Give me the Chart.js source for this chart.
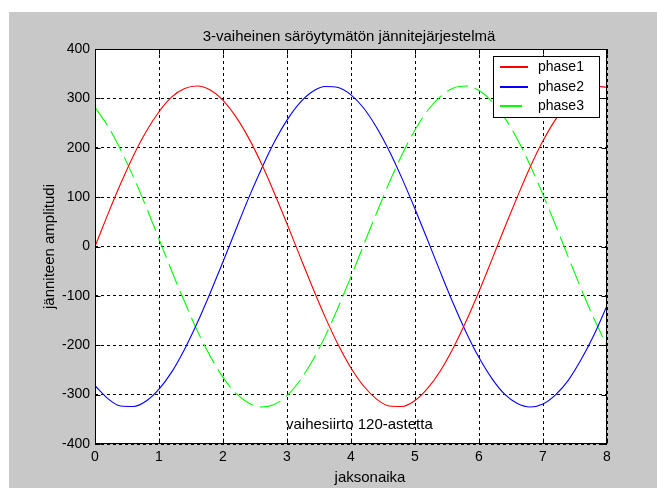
<!DOCTYPE html>
<html>
<head>
<meta charset="utf-8">
<script src="https://cdn.jsdelivr.net/npm/chart.js@4"></script>
<style>
  html, body { margin: 0; padding: 0; background: #fff; }
  canvas { display: block; }
</style>
</head>
<body>
<canvas id="myChart" width="657" height="488"></canvas>
<script>
// data
var aika = [0, 0.2, 0.4, 0.6, 0.8, 1, 1.2, 1.4, 1.6, 1.8, 2, 2.2, 2.4, 2.6, 2.8, 3, 3.2, 3.4, 3.6, 3.8,
            4, 4.2, 4.4, 4.6, 4.8, 5, 5.2, 5.4, 5.6, 5.8, 6, 6.2, 6.4, 6.6, 6.8, 7, 7.2, 7.4, 7.6, 7.8, 8];
var phase1 = [0, 65, 127, 184, 233, 273, 303, 320, 325, 317, 296, 263, 220, 168, 109, 46, -19, -83, -144, -199,
              -246, -283, -309, -323, -324, -312, -287, -251, -205, -151, -91, -27, 38, 101, 161, 214, 258, 292, 315, 325, 322];
var phase2 = [-282, -308, -323, -324, -313, -289, -254, -208, -154, -94, -31, 34, 98, 157, 211, 256, 291, 314, 324, 322,
              307, 280, 241, 193, 137, 76, 12, -53, -116, -174, -225, -267, -299, -318, -325, -319, -300, -270, -228, -178, -120];
var phase3 = [282, 244, 196, 141, 80, 15, -50, -112, -171, -222, -265, -297, -317, -325, -320, -302, -272, -231, -181, -123,
              -61, 4, 68, 130, 187, 236, 276, 304, 321, 325, 316, 294, 261, 217, 164, 105, 42, -23, -87, -147, -202];
var xTicks = [0, 1, 2, 3, 4, 5, 6, 7, 8];
var yTicks = [-400, -300, -200, -100, 0, 100, 200, 300, 400];
var otsikko = '3-vaiheinen säröytymätön jännitejärjestelmä';
var huomautus = { x: 3, y: -361, text: 'vaihesiirto 120-astetta' };

function pisteet(ys) {
  return aika.map(function(t, i) { return { x: t, y: ys[i] }; });
}

var FONT = '"Liberation Sans", Arial, sans-serif';
Chart.defaults.font.family = FONT;
Chart.defaults.font.size = 14;
Chart.defaults.color = '#000';

// MATLAB style frame, inward ticks, texts and legend
var kehys = {
  id: 'kehys',
  beforeDraw: function(chart) {
    var c = chart.ctx, a = chart.chartArea;
    c.save();
    c.fillStyle = '#fff';
    c.fillRect(0, 0, chart.width, chart.height);
    c.fillStyle = '#c8c8c8';
    c.fillRect(9, 12, chart.width - 9, chart.height - 12);
    c.fillStyle = '#fff';
    c.fillRect(a.left, a.top, a.right - a.left, a.bottom - a.top);
    c.restore();
  },
  afterDatasetsDraw: function(chart) {
    var c = chart.ctx, a = chart.chartArea;
    var xs = chart.scales.x, ys = chart.scales.y;
    var l = Math.round(a.left) + 0.5, r = Math.round(a.right) - 0.5;
    var t = Math.round(a.top) + 0.5, b = Math.round(a.bottom) - 0.5;
    c.save();
    c.strokeStyle = '#000';
    c.lineWidth = 1;
    c.setLineDash([]);
    c.strokeRect(l, t, r - l, b - t);
    c.beginPath();
    xTicks.forEach(function(v) {
      var px = Math.round(xs.getPixelForValue(v)) + 0.5;
      c.moveTo(px, b); c.lineTo(px, b - 5);
      c.moveTo(px, t); c.lineTo(px, t + 5);
    });
    yTicks.forEach(function(v) {
      var py = Math.round(ys.getPixelForValue(v)) + 0.5;
      c.moveTo(l, py); c.lineTo(l + 5, py);
      c.moveTo(r, py); c.lineTo(r - 5, py);
    });
    c.stroke();

    c.fillStyle = '#000';
    c.font = '15px ' + FONT;
    c.textAlign = 'left';
    c.textBaseline = 'middle';
    c.fillText(huomautus.text, xs.getPixelForValue(huomautus.x) - 1, ys.getPixelForValue(huomautus.y));

    c.textAlign = 'center';
    c.fillText('jaksonaika', 370, 478);
    c.fillText(otsikko, 349, 37);
    c.restore();
  },
  afterDraw: function(chart) {
    var c = chart.ctx;
    c.save();
    c.fillStyle = '#000';
    c.fillRect(493, 56, 107, 62);
    c.fillStyle = '#fff';
    c.fillRect(494, 57, 105, 60);
    c.font = '14px ' + FONT;
    c.textAlign = 'left';
    c.textBaseline = 'middle';
    chart.data.datasets.forEach(function(ds, i) {
      var y = Math.round(67 + i * 19.5);
      var dash = ds.borderDash || [28, 0];
      c.fillStyle = ds.borderColor;
      // legend sample, drawn as 2px rectangles following the dash pattern
      for (var x = 0, k = 0; x < 28; k++) {
        var len = dash[k % dash.length];
        if (k % 2 === 0) c.fillRect(500 + x, y - 1, Math.min(len, 28 - x), 2);
        x += len || 28;
      }
      c.fillStyle = '#000';
      c.fillText(ds.label, 538, y);
    });
    c.restore();
  }
};

var ctx = document.getElementById('myChart').getContext('2d');
var chart = new Chart(ctx, {
  type: 'line',
  data: {
    datasets: [{
      label: 'phase1',
      data: pisteet(phase1),
      borderColor: '#ff0000'
    }, {
      label: 'phase2',
      data: pisteet(phase2),
      borderColor: '#0000ff'
    }, {
      label: 'phase3',
      data: pisteet(phase3),
      borderColor: '#00ff00',
      borderDash: [22, 7]
    }]
  },
  options: {
    responsive: false,
    animation: false,
    devicePixelRatio: 1,
    layout: { padding: { left: 0, right: 50, top: 49, bottom: 0 } },
    elements: {
      line: { borderWidth: 1.1, cubicInterpolationMode: 'monotone', fill: false },
      point: { radius: 0 }
    },
    plugins: {
      legend: { display: false },
      tooltip: { enabled: false },
      title: { display: false }
    },
    scales: {
      x: {
        type: 'linear',
        min: 0,
        max: 8,
        afterBuildTicks: function(s) { s.ticks = xTicks.map(function(v) { return { value: v }; }); },
        afterFit: function(s) { s.height = 44; },
        ticks: { padding: 5, maxRotation: 0, font: { size: 14 } },
        grid: { color: '#000', lineWidth: 1, drawTicks: false },
        border: { display: false, dash: [3, 3] }
      },
      y: {
        min: -400,
        max: 400,
        afterBuildTicks: function(s) { s.ticks = yTicks.map(function(v) { return { value: v }; }); },
        afterFit: function(s) { s.width = 95; },
        ticks: { padding: 5, font: { size: 14 } },
        grid: { color: '#000', lineWidth: 1, drawTicks: false },
        border: { display: false, dash: [3, 3] },
        title: {
          display: true,
          text: 'jänniteen amplitudi',
          font: { size: 15 },
          padding: { top: 41, bottom: 0 }
        }
      }
    }
  },
  plugins: [kehys]
});
</script>
</body>
</html>
